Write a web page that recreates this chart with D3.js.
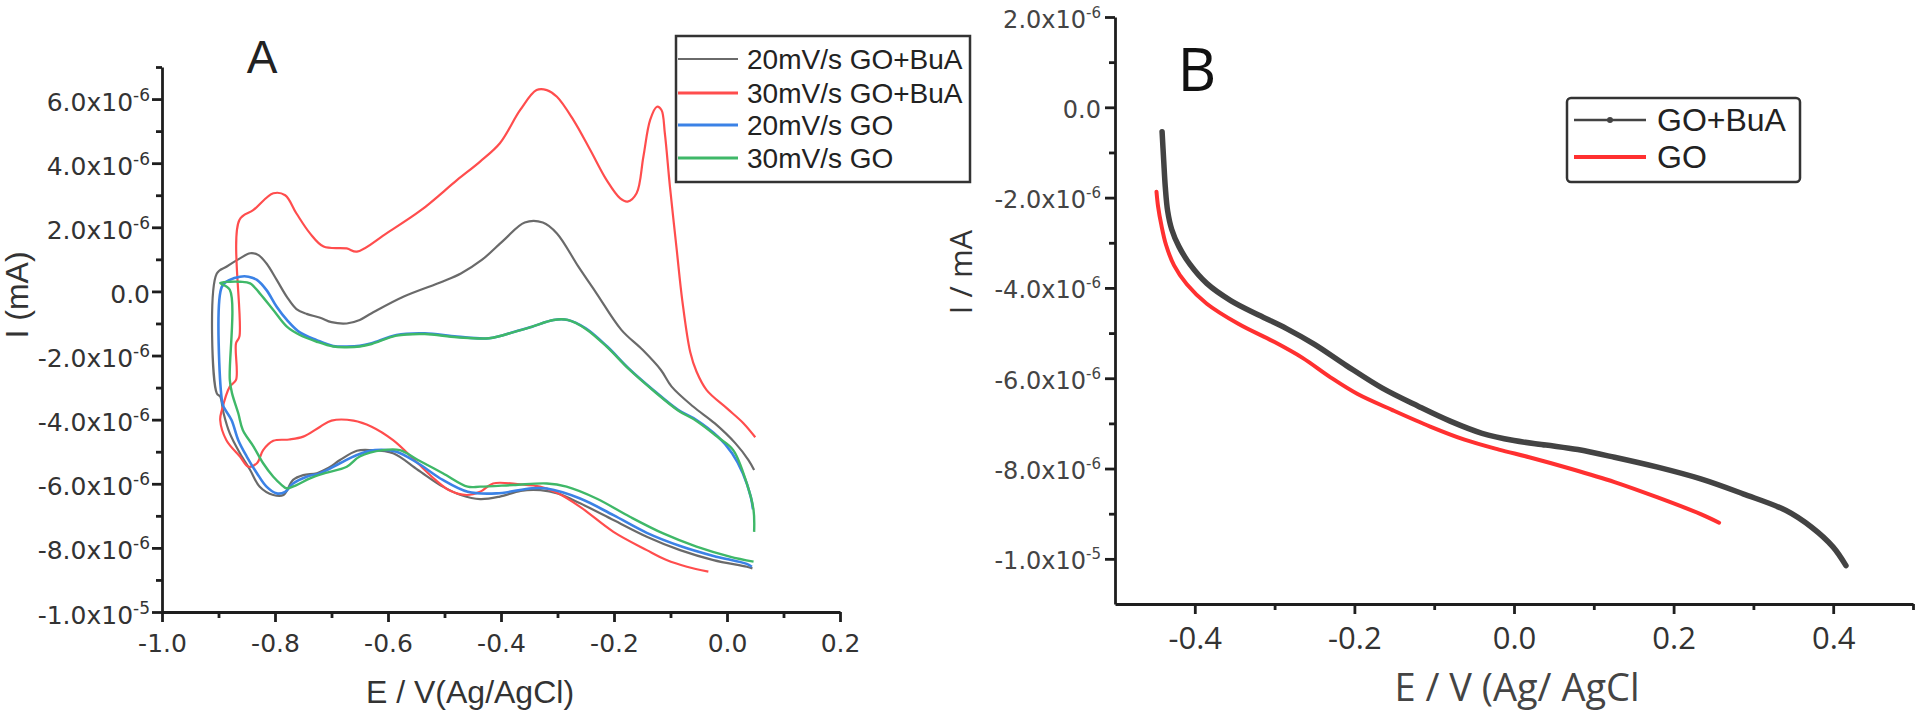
<!DOCTYPE html>
<html><head><meta charset="utf-8">
<script src="https://cdn.jsdelivr.net/npm/d3@7/dist/d3.min.js"></script>
<style>body{margin:0;background:#fff;} svg{display:block}</style>
</head><body>
<svg id="c" width="1922" height="714"></svg>
<script>
// ---------------- Panel A data: [E (V), I (x1e-6 mA)] ----------------
const aSeriesNames = ["20mV/s GO+BuA", "30mV/s GO+BuA", "20mV/s GO", "30mV/s GO"];
const a20GoBuA = [[0.045,-8.64],[0.035,-8.59],[-0.024,-8.38],[-0.083,-8.07],[-0.142,-7.65],[-0.201,-7.13],[-0.260,-6.61],[-0.300,-6.30],[-0.330,-6.20],[-0.365,-6.22],[-0.402,-6.40],[-0.437,-6.48],[-0.471,-6.35],[-0.503,-6.09],[-0.547,-5.57],[-0.591,-5.05],[-0.630,-4.95],[-0.655,-4.97],[-0.685,-5.26],[-0.705,-5.50],[-0.726,-5.67],[-0.750,-5.73],[-0.768,-5.88],[-0.785,-6.35],[-0.803,-6.35],[-0.827,-6.09],[-0.844,-5.57],[-0.862,-5.05],[-0.880,-4.43],[-0.891,-3.80],[-0.897,-3.28],[-0.903,-3.18],[-0.903,0.56],[-0.886,0.77],[-0.862,1.03],[-0.844,1.19],[-0.830,1.14],[-0.815,0.87],[-0.797,0.36],[-0.779,-0.17],[-0.762,-0.55],[-0.744,-0.70],[-0.720,-0.82],[-0.700,-0.96],[-0.673,-1.0],[-0.650,-0.89],[-0.629,-0.68],[-0.572,-0.16],[-0.503,0.31],[-0.471,0.56],[-0.434,0.98],[-0.395,1.60],[-0.358,2.15],[-0.326,2.15],[-0.301,1.81],[-0.263,0.77],[-0.231,-0.06],[-0.187,-1.20],[-0.149,-1.83],[-0.117,-2.45],[-0.098,-2.97],[-0.060,-3.59],[-0.022,-4.11],[0.015,-4.74],[0.038,-5.26],[0.048,-5.57]];
const a30GoBuA = [[-0.033,-8.74],[-0.071,-8.59],[-0.107,-8.38],[-0.142,-8.07],[-0.201,-7.50],[-0.260,-6.72],[-0.300,-6.29],[-0.331,-6.09],[-0.366,-6.02],[-0.414,-5.99],[-0.437,-6.25],[-0.461,-6.35],[-0.490,-6.22],[-0.516,-5.88],[-0.553,-5.26],[-0.591,-4.64],[-0.629,-4.22],[-0.661,-4.03],[-0.700,-4.03],[-0.720,-4.22],[-0.750,-4.53],[-0.775,-4.62],[-0.803,-4.66],[-0.821,-4.95],[-0.832,-5.36],[-0.847,-5.47],[-0.862,-5.15],[-0.886,-4.64],[-0.897,-4.01],[-0.894,-3.70],[-0.880,-2.97],[-0.869,-2.76],[-0.869,-1.62],[-0.863,-1.41],[-0.863,2.23],[-0.838,2.54],[-0.803,3.06],[-0.782,3.0],[-0.762,2.43],[-0.738,1.81],[-0.714,1.40],[-0.673,1.34],[-0.655,1.24],[-0.602,1.82],[-0.541,2.54],[-0.478,3.47],[-0.437,4.05],[-0.402,4.62],[-0.366,5.66],[-0.337,6.28],[-0.319,6.28],[-0.301,6.07],[-0.272,5.35],[-0.242,4.41],[-0.213,3.47],[-0.189,2.90],[-0.176,2.80],[-0.160,3.06],[-0.148,4.20],[-0.136,5.35],[-0.124,5.76],[-0.116,5.66],[-0.110,4.93],[-0.101,3.27],[-0.089,1.3],[-0.079,-0.3],[-0.065,-1.9],[-0.054,-2.5],[-0.036,-3.08],[0.0,-3.65],[0.029,-4.11],[0.050,-4.55]];
const a20Go = [[0.044,-8.59],[0.035,-8.50],[-0.024,-8.25],[-0.083,-7.94],[-0.142,-7.53],[-0.201,-6.98],[-0.260,-6.46],[-0.319,-6.15],[-0.345,-6.14],[-0.408,-6.30],[-0.459,-6.25],[-0.503,-5.88],[-0.547,-5.36],[-0.585,-5.00],[-0.623,-4.95],[-0.655,-5.10],[-0.685,-5.36],[-0.720,-5.67],[-0.744,-5.78],[-0.768,-5.99],[-0.782,-6.25],[-0.797,-6.30],[-0.815,-6.09],[-0.832,-5.67],[-0.850,-5.15],[-0.865,-4.64],[-0.877,-4.01],[-0.891,-3.60],[-0.894,-3.40],[-0.894,0.15],[-0.880,0.36],[-0.862,0.46],[-0.847,0.46],[-0.832,0.36],[-0.815,0.04],[-0.797,-0.48],[-0.779,-0.89],[-0.756,-1.28],[-0.726,-1.52],[-0.697,-1.70],[-0.673,-1.72],[-0.650,-1.70],[-0.629,-1.62],[-0.585,-1.36],[-0.535,-1.31],[-0.478,-1.41],[-0.421,-1.46],[-0.376,-1.26],[-0.345,-1.10],[-0.307,-0.89],[-0.282,-0.89],[-0.250,-1.15],[-0.212,-1.72],[-0.174,-2.40],[-0.130,-3.08],[-0.086,-3.70],[-0.054,-4.01],[-0.016,-4.53],[0.009,-5.05],[0.028,-5.67],[0.042,-6.40],[0.046,-6.80]];
const a30Go = [[0.047,-8.43],[0.005,-8.27],[-0.054,-7.96],[-0.113,-7.55],[-0.172,-7.03],[-0.231,-6.46],[-0.284,-6.09],[-0.319,-5.99],[-0.378,-6.04],[-0.437,-6.09],[-0.459,-6.09],[-0.503,-5.67],[-0.547,-5.26],[-0.579,-4.95],[-0.609,-4.95],[-0.650,-5.15],[-0.673,-5.47],[-0.712,-5.67],[-0.738,-5.83],[-0.762,-6.04],[-0.780,-6.14],[-0.788,-6.04],[-0.803,-5.78],[-0.821,-5.36],[-0.838,-4.84],[-0.857,-4.32],[-0.865,-3.80],[-0.876,-3.18],[-0.880,-2.76],[-0.880,0.05],[-0.897,0.26],[-0.880,0.30],[-0.862,0.30],[-0.844,0.25],[-0.827,-0.06],[-0.803,-0.58],[-0.779,-1.10],[-0.756,-1.36],[-0.726,-1.57],[-0.697,-1.72],[-0.673,-1.74],[-0.650,-1.72],[-0.629,-1.64],[-0.585,-1.38],[-0.535,-1.33],[-0.478,-1.43],[-0.421,-1.46],[-0.376,-1.26],[-0.345,-1.10],[-0.307,-0.89],[-0.282,-0.89],[-0.250,-1.17],[-0.212,-1.74],[-0.174,-2.42],[-0.130,-3.10],[-0.086,-3.72],[-0.054,-4.04],[-0.016,-4.55],[0.011,-4.95],[0.035,-5.99],[0.047,-6.82],[0.048,-7.50]];
const aXTicks = [-1.0, -0.8, -0.6, -0.4, -0.2, 0.0, 0.2];
const aXMinor = [-0.9, -0.7, -0.5, -0.3, -0.1, 0.1];
const aYTicks = [-10, -8, -6, -4, -2, 0, 2, 4, 6];
const aYMinor = [-9, -7, -5, -3, -1, 1, 3, 5, 7];

// ---------------- Panel B data: [E (V), I (x1e-6 mA)] ----------------
const bSeriesNames = ["GO+BuA", "GO"];
const bGoBuA = [[-0.441,-0.54],[-0.439,-1.17],[-0.437,-1.76],[-0.434,-2.30],[-0.429,-2.70],[-0.420,-3.08],[-0.406,-3.48],[-0.385,-3.90],[-0.355,-4.28],[-0.320,-4.60],[-0.285,-4.90],[-0.250,-5.25],[-0.210,-5.72],[-0.165,-6.22],[-0.120,-6.62],[-0.080,-6.95],[-0.040,-7.22],[0.000,-7.38],[0.040,-7.48],[0.080,-7.58],[0.126,-7.75],[0.180,-7.97],[0.234,-8.23],[0.287,-8.56],[0.341,-8.93],[0.373,-9.30],[0.400,-9.74],[0.416,-10.15]];
const bGo = [[-0.448,-1.87],[-0.446,-2.20],[-0.442,-2.60],[-0.436,-3.05],[-0.426,-3.50],[-0.410,-3.92],[-0.385,-4.35],[-0.345,-4.80],[-0.300,-5.20],[-0.265,-5.55],[-0.230,-5.98],[-0.196,-6.35],[-0.153,-6.70],[-0.105,-7.07],[-0.062,-7.36],[-0.019,-7.58],[0.019,-7.75],[0.072,-8.01],[0.126,-8.30],[0.180,-8.64],[0.234,-9.01],[0.257,-9.20]];
const bXTicks = [-0.4, -0.2, 0.0, 0.2, 0.4];
const bXMinor = [-0.3, -0.1, 0.1, 0.3, 0.5];
const bYTicks = [-10, -8, -6, -4, -2, 0, 2];
const bYMinor = [-9, -7, -5, -3, -1, 1];

// ---------------- drawing ----------------
const svg = d3.select("#c");
const AX = "#1e1e1e";
const AXW = 2.8;
const SANS = "'Liberation Sans', Arial, sans-serif";
const DJ = "'DejaVu Sans', sans-serif";
const OS = "'Open Sans', sans-serif";

function yLabel(text, v, supSize) {
  text.text(null);
  if (v === 0) { text.append("tspan").text("0.0"); return; }
  let m = v, e = -6;
  if (Math.abs(v) >= 10) { m = v / 10; e = -5; }
  text.append("tspan").text(m.toFixed(1) + "x10");
  text.append("tspan").attr("dy", -10).attr("font-size", supSize).text(String(e));
}

function styleAxis(g, w) {
  g.attr("font-family", null).attr("font-size", null);
  g.select(".domain").attr("stroke", AX).attr("stroke-width", w);
  g.selectAll(".tick line").attr("stroke", AX).attr("stroke-width", w);
}

// ---- Panel A ----
const xA = d3.scaleLinear().domain([-1.0, 0.2]).range([162, 840]);
const yA = d3.scaleLinear().domain([-10, 7]).range([612, 67]);

const gA = svg.append("g");
const lineA = d3.line().x(d => xA(d[0])).y(d => yA(d[1])).curve(d3.curveCatmullRom.alpha(0.5));
const aData = [a20GoBuA, a30GoBuA, a20Go, a30Go];
const aColors = ["#6a6a6a", "#ff4d4d", "#3b82e6", "#3fb868"];
const aWidths = [2.2, 2.2, 2.6, 2.4];
aData.forEach((d, i) => {
  gA.append("path").attr("d", lineA(d)).attr("fill", "none")
    .attr("stroke", aColors[i]).attr("stroke-width", aWidths[i]).attr("stroke-linejoin", "round");
});

gA.append("g").attr("transform", "translate(162,0)")
  .call(d3.axisLeft(yA).tickValues(aYMinor).tickSize(6).tickFormat("").tickSizeOuter(0))
  .call(g => { styleAxis(g, AXW); g.select(".domain").remove(); });
gA.append("g").attr("transform", "translate(0,612)")
  .call(d3.axisBottom(xA).tickValues(aXMinor).tickSize(6).tickFormat("").tickSizeOuter(0))
  .call(g => { styleAxis(g, AXW); g.select(".domain").remove(); });

const yAxA = gA.append("g").attr("transform", "translate(162,0)")
  .call(d3.axisLeft(yA).tickValues(aYTicks).tickSize(10).tickPadding(2).tickSizeOuter(0));
styleAxis(yAxA, AXW);
yAxA.selectAll(".tick text").attr("dy", null).attr("y", 11)
  .attr("font-family", DJ).attr("font-size", 25).attr("fill", "#333")
  .each(function(v) { yLabel(d3.select(this), v, 17); });

const xAxA = gA.append("g").attr("transform", "translate(0,612)")
  .call(d3.axisBottom(xA).tickValues(aXTicks).tickSize(10).tickSizeOuter(0).tickFormat(v => v.toFixed(1)));
styleAxis(xAxA, AXW);
xAxA.selectAll(".tick text").attr("dy", null).attr("y", 40)
  .attr("font-family", DJ).attr("font-size", 25).attr("fill", "#333");

gA.append("text").attr("x", 470).attr("y", 703).attr("text-anchor", "middle")
  .attr("font-family", SANS).attr("font-size", 32).attr("fill", "#333").text("E / V(Ag/AgCl)");
gA.append("text").attr("transform", "translate(28,295) rotate(-90)").attr("text-anchor", "middle")
  .attr("font-family", SANS).attr("font-size", 32).attr("fill", "#333").text("I (mA)");
gA.append("text").attr("x", 262).attr("y", 73).attr("text-anchor", "middle")
  .attr("font-family", SANS).attr("font-size", 46).attr("fill", "#222").text("A");

const legA = gA.append("g");
legA.append("rect").attr("x", 676).attr("y", 36).attr("width", 294).attr("height", 146)
  .attr("fill", "#fff").attr("stroke", "#333").attr("stroke-width", 2.5);
const legAy = [59, 93, 125, 158];
aSeriesNames.forEach((n, i) => {
  legA.append("line").attr("x1", 678).attr("x2", 738).attr("y1", legAy[i]).attr("y2", legAy[i])
    .attr("stroke", aColors[i]).attr("stroke-width", i === 0 ? 2.2 : 3);
  legA.append("text").attr("x", 747).attr("y", legAy[i] + 10)
    .attr("font-family", SANS).attr("font-size", 28).attr("fill", "#222").text(n);
});

// ---- Panel B ----
const xB = d3.scaleLinear().domain([-0.5, 0.5]).range([1115, 1913]);
const yB = d3.scaleLinear().domain([-11, 2]).range([604, 17]);
const gB = svg.append("g");
const lineB = d3.line().x(d => xB(d[0])).y(d => yB(d[1])).curve(d3.curveCatmullRom.alpha(0.5));
const bColors = ["#434343", "#ff3030"];
const bWidths = [5.5, 4];
[bGoBuA, bGo].forEach((d, i) => {
  gB.append("path").attr("d", lineB(d)).attr("fill", "none")
    .attr("stroke", bColors[i]).attr("stroke-width", bWidths[i]).attr("stroke-linecap", "round").attr("stroke-linejoin", "round");
});

gB.append("g").attr("transform", "translate(1115,0)")
  .call(d3.axisLeft(yB).tickValues(bYMinor).tickSize(6).tickFormat("").tickSizeOuter(0))
  .call(g => { styleAxis(g, AXW); g.select(".domain").remove(); });
gB.append("g").attr("transform", "translate(0,604)")
  .call(d3.axisBottom(xB).tickValues(bXMinor).tickSize(6).tickFormat("").tickSizeOuter(0))
  .call(g => { styleAxis(g, AXW); g.select(".domain").remove(); });

const yAxB = gB.append("g").attr("transform", "translate(1115,0)")
  .call(d3.axisLeft(yB).tickValues(bYTicks).tickSize(10).tickPadding(4).tickSizeOuter(0));
styleAxis(yAxB, AXW);
yAxB.selectAll(".tick text").attr("dy", null).attr("y", 10)
  .attr("font-family", DJ).attr("font-size", 24).attr("fill", "#444")
  .each(function(v) { yLabel(d3.select(this), v, 15); });

const xAxB = gB.append("g").attr("transform", "translate(0,604)")
  .call(d3.axisBottom(xB).tickValues(bXTicks).tickSize(10).tickSizeOuter(0).tickFormat(v => v.toFixed(1)));
styleAxis(xAxB, AXW);
xAxB.selectAll(".tick text").attr("dy", null).attr("y", 45)
  .attr("font-family", OS).attr("font-size", 31).attr("fill", "#333");

gB.append("text").attr("x", 1517).attr("y", 701).attr("text-anchor", "middle")
  .attr("font-family", OS).attr("font-size", 38).attr("fill", "#444").text("E / V (Ag/ AgCl");
gB.append("text").attr("transform", "translate(972,272) rotate(-90)").attr("text-anchor", "middle")
  .attr("font-family", OS).attr("font-size", 31).attr("fill", "#333").text("I / mA");
gB.append("text").attr("x", 1197).attr("y", 91).attr("text-anchor", "middle")
  .attr("font-family", OS).attr("font-size", 60).attr("fill", "#111").text("B");

const legB = gB.append("g");
legB.append("rect").attr("x", 1567).attr("y", 98).attr("width", 233).attr("height", 84).attr("rx", 4)
  .attr("fill", "#fff").attr("stroke", "#333").attr("stroke-width", 2.5);
const legBy = [120, 157];
bSeriesNames.forEach((n, i) => {
  legB.append("line").attr("x1", 1574).attr("x2", 1646).attr("y1", legBy[i]).attr("y2", legBy[i])
    .attr("stroke", bColors[i]).attr("stroke-width", i === 0 ? 2.5 : 4);
  if (i === 0) legB.append("circle").attr("cx", 1610).attr("cy", legBy[i]).attr("r", 3).attr("fill", bColors[0]);
  legB.append("text").attr("x", 1657).attr("y", legBy[i] + 11)
    .attr("font-family", SANS).attr("font-size", 32).attr("fill", "#222").text(n);
});
</script>
</body></html>
